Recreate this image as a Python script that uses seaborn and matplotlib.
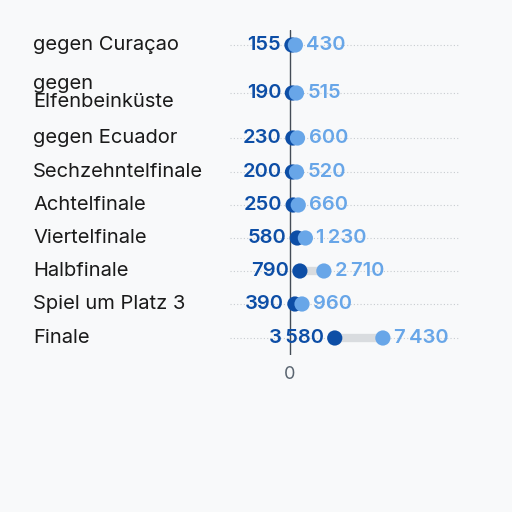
import matplotlib
matplotlib.use("Agg")
import matplotlib.pyplot as plt
import seaborn as sns
import pandas as pd

sns.set_theme(style="white")
plt.rcParams['font.family'] = ['Inter', 'DejaVu Sans']

rounds = ["gegen Curaçao", "gegen\nElfenbeinküste", "gegen Ecuador", "Sechzehntelfinale",
          "Achtelfinale", "Viertelfinale", "Halbfinale", "Spiel um Platz 3", "Finale"]
low = [155, 190, 230, 200, 250, 580, 790, 390, 3580]
high = [430, 515, 600, 520, 660, 1230, 2710, 960, 7430]
row_px = [45, 93, 138, 172, 205, 238, 271, 304, 338]  # row centres in pixels

dark = "#0d4ea6"
light = "#68a6e8"
bg = "#f8f9fa"

df = pd.DataFrame({"round": rounds, "low": low, "high": high, "y": [-p for p in row_px]})

def fmt(v):
    return f"{v:,}".replace(",", "\u2009")

fig = plt.figure(figsize=(5.12, 5.12), dpi=100, facecolor=bg)
ax = fig.add_axes([230 / 512, 1 - 355 / 512, 230 / 512, 325 / 512], facecolor=bg)
ax.set_xlim(-4800, 13600)
ax.set_ylim(-355, -30)

for _, r in df.iterrows():
    ax.axhline(r.y, color="#c8ccd0", lw=0.8, ls=(0, (1, 2)), zorder=0)
    ax.plot([r.low, r.high], [r.y, r.y], color="#d9dcdf", lw=6, solid_capstyle="butt", zorder=1)
    ax.annotate(fmt(r.low), (r.low, r.y), xytext=(-8, 0), textcoords="offset points",
                ha="right", va="center", color=dark, fontsize=14.5, fontweight="semibold")
    ax.annotate(fmt(r.high), (r.high, r.y), xytext=(8, 0), textcoords="offset points",
                ha="left", va="center", color=light, fontsize=14.5, fontweight="semibold")
    fig.text(33 / 512, 1 + r.y / 512, r["round"], ha="left", va="center",
             fontsize=14.5, color="#1a1a1a", linespacing=1.0)

sns.scatterplot(data=df, x="low", y="y", color=dark, s=120, edgecolor="none", zorder=3, ax=ax)
sns.scatterplot(data=df, x="high", y="y", color=light, s=120, edgecolor="none", zorder=3, ax=ax)

ax.axvline(0, color="#444c56", lw=1, zorder=2)
ax.set_xticks([0])
ax.set_xticklabels(["0"], color="#5a6570", fontsize=13)
ax.set_yticks([])
ax.tick_params(axis="x", length=0, pad=8)
ax.set_xlabel("")
ax.set_ylabel("")
sns.despine(ax=ax, left=True, bottom=True)

fig.savefig("out.png", dpi=100, facecolor=bg)
